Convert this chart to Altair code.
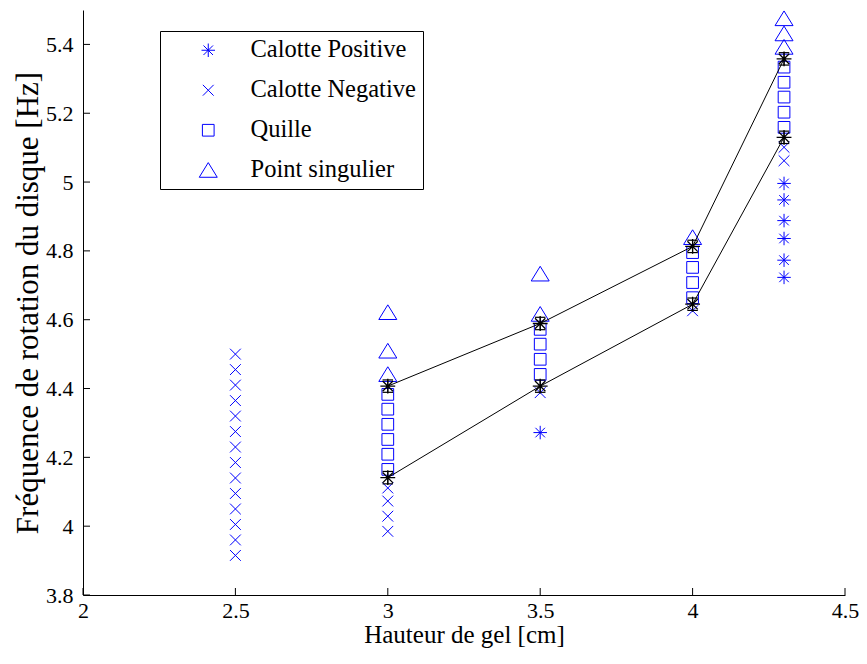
import altair as alt
import pandas as pd

# ---------------- data ----------------
series_names = ["Calotte Positive", "Calotte Negative", "Quille", "Point singulier"]

pos_x = [3.5, 4.3, 4.3, 4.3, 4.3, 4.3, 4.3]
pos_y = [4.272, 4.996, 4.948, 4.888, 4.836, 4.773, 4.723]

neg_x = [2.5, 2.5, 2.5, 2.5, 2.5, 2.5, 2.5, 2.5, 2.5, 2.5, 2.5, 2.5, 2.5, 2.5,
         3.0, 3.0, 3.0, 3.0, 3.5, 4.0, 4.3, 4.3]
neg_y = [4.500, 4.455, 4.410, 4.365, 4.320, 4.275, 4.230, 4.185, 4.140, 4.095,
         4.050, 4.005, 3.960, 3.915, 4.111, 4.073, 4.029, 3.985, 4.388, 4.626,
         5.101, 5.062]

quille_x = [3.0, 3.0, 3.0, 3.0, 3.0, 3.0, 3.5, 3.5, 3.5, 3.5,
            4.0, 4.0, 4.0, 4.0, 4.3, 4.3, 4.3, 4.3, 4.3]
quille_y = [4.383, 4.340, 4.296, 4.252, 4.209, 4.165, 4.572, 4.529, 4.485, 4.441,
            4.795, 4.752, 4.708, 4.664, 5.334, 5.290, 5.247, 5.203, 5.159]

sing_x = [3.0, 3.0, 3.0, 3.5, 3.5, 4.0, 4.3, 4.3, 4.3]
sing_y = [4.621, 4.509, 4.441, 4.733, 4.616, 4.839, 5.475, 5.431, 5.392]

mean_x = [3.0, 3.5, 4.0, 4.3]
upper_y = [4.407, 4.589, 4.813, 5.358]
upper_err = [0.018, 0.018, 0.018, 0.018]
lower_y = [4.141, 4.407, 4.645, 5.130]
lower_err = [0.018, 0.018, 0.018, 0.018]

x_ticks = [2.0, 2.5, 3.0, 3.5, 4.0, 4.5]
y_ticks = [3.8, 4.0, 4.2, 4.4, 4.6, 4.8, 5.0, 5.2, 5.4]

# ---------------- tables ----------------
rows = []
for name, xs, ys in [(series_names[0], pos_x, pos_y), (series_names[1], neg_x, neg_y),
                     (series_names[2], quille_x, quille_y), (series_names[3], sing_x, sing_y)]:
    for a, b in zip(xs, ys):
        rows.append({"x": a, "y": b, "serie": name})
pts = pd.DataFrame(rows)

mrows = []
for grp, ys, es in [("haut", upper_y, upper_err), ("bas", lower_y, lower_err)]:
    for a, b, e in zip(mean_x, ys, es):
        mrows.append({"x": a, "y": b, "lo": b - e, "hi": b + e, "g": grp})
means = pd.DataFrame(mrows)

xt = pd.DataFrame({"t": x_ticks})
yt = pd.DataFrame({"t": y_ticks})

W, H = 762, 585
FONT = "Liberation Serif, Times New Roman, serif"
BLUE = "#0000ff"

# marker paths (unit box scaled by sqrt(size)/2 = 9 px)
ASTERISK = "M-0.75,0L0.75,0M0,-0.75L0,0.75M-0.53,-0.53L0.53,0.53M-0.53,0.53L0.53,-0.53"
XSHAPE = "M-0.6,-0.6L0.6,0.6M-0.6,0.6L0.6,-0.6"
SQUARE = "M-0.65,-0.65L0.65,-0.65L0.65,0.65L-0.65,0.65Z"
TRIANGLE = "M0,-0.85L1,0.78L-1,0.78Z"
HBAR = "M-1,0L1,0"
BIGSTAR = "M-1,0L1,0M0,-1L0,1M-0.7,-0.7L0.7,0.7M-0.7,0.7L0.7,-0.7"

xscale = alt.Scale(domain=[2, 4.5], nice=False, zero=False)
yscale = alt.Scale(domain=[3.8, 5.5], nice=False, zero=False)

xenc = alt.X("x:Q", scale=xscale, title="Hauteur de gel [cm]",
             axis=alt.Axis(values=x_ticks, format="~g", labelFlush=False, ticks=False,
                           grid=False, labelPadding=5, titlePadding=1, titleFontSize=25))
yenc = alt.Y("y:Q", scale=yscale, title="Fréquence de rotation du disque [Hz]",
             axis=alt.Axis(values=y_ticks, format="~g", ticks=False, grid=False,
                           labelPadding=10, titlePadding=1, titleFontSize=31))

scatter = alt.Chart(pts).mark_point(filled=False, strokeWidth=1, color=BLUE, opacity=1,
                                    size=324).encode(
    x=xenc, y=yenc,
    shape=alt.Shape("serie:N",
                    scale=alt.Scale(domain=series_names,
                                    range=[ASTERISK, XSHAPE, SQUARE, TRIANGLE]),
                    legend=alt.Legend(title=None, orient="none", legendX=77, legendY=21,
                                      strokeColor="black", fillColor="white", padding=7,
                                      symbolOffset=29, labelOffset=30, rowPadding=15,
                                      labelFont=FONT, labelFontSize=24.5, labelColor="black",
                                      symbolStrokeColor=BLUE, symbolFillColor="transparent",
                                      symbolStrokeWidth=1, symbolSize=324, cornerRadius=0,
                                      labelLimit=400)),
)

lines = alt.Chart(means).mark_line(color="black", strokeWidth=1).encode(
    x=alt.X("x:Q", scale=xscale), y=alt.Y("y:Q", scale=yscale), detail="g:N")

bars = alt.Chart(means).mark_rule(color="black", strokeWidth=1).encode(
    x=alt.X("x:Q", scale=xscale), y=alt.Y("lo:Q", scale=yscale), y2="hi:Q")

cap_lo = alt.Chart(means).mark_point(shape=HBAR, size=110, color="black", strokeWidth=1.2,
                                     filled=False, opacity=1).encode(
    x=alt.X("x:Q", scale=xscale), y=alt.Y("lo:Q", scale=yscale))
cap_hi = alt.Chart(means).mark_point(shape=HBAR, size=110, color="black", strokeWidth=1.2,
                                     filled=False, opacity=1).encode(
    x=alt.X("x:Q", scale=xscale), y=alt.Y("hi:Q", scale=yscale))

stars = alt.Chart(means).mark_point(shape=BIGSTAR, size=220, color="black", strokeWidth=1.3,
                                    filled=False, opacity=1).encode(
    x=alt.X("x:Q", scale=xscale), y=alt.Y("y:Q", scale=yscale))

xtick_marks = alt.Chart(xt).mark_rule(color="black", strokeWidth=1).encode(
    x=alt.X("t:Q", scale=xscale), y=alt.value(H), y2=alt.value(H - 7))
ytick_marks = alt.Chart(yt).mark_rule(color="black", strokeWidth=1).encode(
    y=alt.Y("t:Q", scale=yscale), x=alt.value(0), x2=alt.value(7))

chart = alt.layer(scatter, lines, bars, cap_lo, cap_hi, stars, xtick_marks, ytick_marks).properties(
    width=W, height=H,
    autosize=alt.AutoSizeParams(type="none"),
    padding={"left": 75, "top": 2, "right": 14, "bottom": 62},
    background="white",
).configure_view(stroke=None).configure_axis(
    domainColor="black", domainWidth=1, labelFont=FONT, labelFontSize=22, labelColor="black",
    titleFont=FONT, titleFontSize=22, titleFontWeight="normal", titleColor="black",
    labelOverlap=False,
)

chart.save("out.html", embed_options={"renderer": "svg", "actions": False})
